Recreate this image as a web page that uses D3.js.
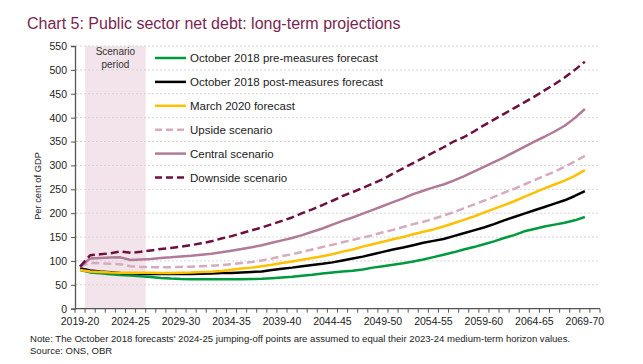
<!DOCTYPE html>
<html>
<head>
<meta charset="utf-8">
<script src="https://cdn.jsdelivr.net/npm/d3@7"></script>
<style>
  body { margin: 0; background: #fff; }
  svg { font-family: "Liberation Sans", Arial, sans-serif; display: block; }
</style>
</head>
<body>
<div class="chart"></div>
<script>
var firstYear = 2019;
var lastYear = 2070; // axis runs one category past the last data point

var tickLabels = ["2019-20", "2024-25", "2029-30", "2034-35", "2039-40", "2044-45",
  "2049-50", "2054-55", "2059-60", "2064-65", "2069-70"];
var yTicks = [0, 50, 100, 150, 200, 250, 300, 350, 400, 450, 500, 550];
var scenarioPeriod = ["2020-21", "2025-26"];

var preMeasures = [81, 76, 74, 72, 70.5, 69.5, 68, 66.5, 64.5, 63, 62, 61.5, 61.5, 61.5, 61.5, 61.5, 61.5, 62, 62.5, 64,
  65.5, 67, 69, 71, 73.5, 76, 78, 79.5, 82, 86, 89, 92, 95, 99, 103, 108, 113, 118, 124, 129,
  135, 141, 148, 154, 162, 167, 172, 176, 180, 185, 192];
var postMeasures = [84.5, 80, 78, 76.5, 75, 74, 73, 72.5, 72.5, 72.5, 72.5, 72.5, 73, 73.5, 74.5, 75, 76, 77, 78, 81,
  83.5, 86, 89, 91.5, 94, 97, 101, 105, 109, 114, 119, 124, 128, 133, 138, 142, 146, 152, 158, 164,
  170, 177, 185, 192, 199, 206, 213, 220, 227, 236, 246];
var march2020 = [81, 78, 77, 76, 75.5, 75.5, 75.5, 75.5, 75, 75, 75.5, 76, 77, 77.5, 79, 81.5, 84, 86, 89, 92,
  95.5, 99, 102.5, 106, 110, 114, 119.5, 124, 130, 135, 140, 145.5, 150, 156, 161, 166, 172, 179, 186, 193,
  201, 209, 217, 225, 234, 243, 252, 260, 268, 278, 290];
var upside = [88, 96, 95, 94, 93, 89, 87.5, 87, 87, 87, 87.5, 88, 89, 90, 91.5, 93, 95.5, 98, 101, 105,
  110, 114, 119, 124, 129, 134, 139, 144, 149, 154, 160, 165, 171, 177, 182, 188, 195, 202, 210, 218,
  226, 234, 243, 251, 260, 269, 278, 287, 297, 308, 320];
var central = [88, 105, 106, 107, 107.5, 102, 103, 104, 106, 107.5, 109.5, 111, 113, 115, 118, 121.5, 125, 128.5, 133, 138,
  143, 148, 154, 161, 168, 176, 184, 191, 199, 207, 215, 223, 231, 240, 247, 254, 260, 268, 277, 287,
  297, 307, 317, 328, 339, 350, 360, 371, 383, 399, 418];
var downside = [88, 112, 114, 116, 120, 117, 119, 122, 125, 127, 130, 133, 137, 141, 147, 152, 158, 164, 170, 177,
  184, 191, 200, 208, 217, 226, 236, 244, 253, 262, 271, 283, 294, 305, 316, 327, 338, 350, 359, 371,
  384, 396, 408, 420, 432, 444, 457, 470, 484, 500, 517];

var seriesNames = ["October 2018 pre-measures forecast", "October 2018 post-measures forecast",
  "March 2020 forecast", "Upside scenario", "Central scenario", "Downside scenario"];
var seriesValues = [preMeasures, postMeasures, march2020, upside, central, downside];
var seriesColors = ["#009a3e", "#000000", "#ffc000", "#d6abc0", "#b07a98", "#6e0f40"];
var seriesDash = [null, null, null, "8,4", null, "8,4"];

function fyLabel(y) { return y + "-" + String(y + 1).slice(2); }
var categories = d3.range(firstYear, lastYear + 1).map(fyLabel);

var width = 643, height = 364;
var margin = { top: 46, right: 43, bottom: 55.3, left: 75 };

var x = d3.scaleBand().domain(categories).range([margin.left, width - margin.right]).padding(0);
var y = d3.scaleLinear().domain([0, 550]).range([height - margin.bottom, margin.top]);

var svg = d3.select(".chart").append("svg")
  .attr("width", width)
  .attr("height", height);

svg.append("text")
  .attr("x", 27)
  .attr("y", 29)
  .attr("font-size", 16)
  .attr("fill", "#7b1f4f")
  .text("Chart 5: Public sector net debt: long-term projections");

// scenario shading
svg.append("rect")
  .attr("x", x(scenarioPeriod[0]))
  .attr("y", y(550))
  .attr("width", x(scenarioPeriod[1]) + x.bandwidth() - x(scenarioPeriod[0]))
  .attr("height", y(0) - y(550))
  .attr("fill", "#f2e4ea");

svg.selectAll(".grid")
  .data(yTicks.filter(function(d) { return d > 0; }))
  .enter().append("line")
  .attr("class", "grid")
  .attr("x1", margin.left + 1)
  .attr("x2", width - margin.right)
  .attr("y1", function(d) { return y(d); })
  .attr("y2", function(d) { return y(d); })
  .attr("stroke", "#d4d4d4")
  .attr("stroke-width", 1)
  .attr("stroke-dasharray", "2,2");

var sc = svg.append("text")
  .attr("text-anchor", "middle")
  .attr("font-size", 10)
  .attr("fill", "#333");
sc.append("tspan").attr("x", (x(scenarioPeriod[0]) + x(scenarioPeriod[1]) + x.bandwidth()) / 2).attr("y", 55).text("Scenario");
sc.append("tspan").attr("x", (x(scenarioPeriod[0]) + x(scenarioPeriod[1]) + x.bandwidth()) / 2).attr("y", 68).text("period");

// y axis
var yAxis = svg.append("g")
  .attr("transform", "translate(" + margin.left + ",0)")
  .call(d3.axisLeft(y).tickValues(yTicks).tickSize(4).tickPadding(4));
yAxis.select(".domain").attr("stroke", "#555").attr("stroke-width", 1.3);
yAxis.selectAll(".tick line").attr("stroke", "#555");
yAxis.selectAll("text").attr("font-size", 10.5).attr("fill", "#222")
  .attr("font-family", "Liberation Sans, Arial, sans-serif");

svg.append("text")
  .attr("transform", "translate(41," + 186 + ") rotate(-90)")
  .attr("text-anchor", "middle")
  .attr("font-size", 9.3)
  .attr("fill", "#222")
  .text("Per cent of GDP");

// x axis: ticks on category boundaries, labels every five years
var xAxis = svg.append("g")
  .attr("transform", "translate(0," + y(0) + ")");
xAxis.append("line")
  .attr("x1", margin.left)
  .attr("x2", width - margin.right)
  .attr("stroke", "#555")
  .attr("stroke-width", 1.3);
xAxis.selectAll(".xtick")
  .data(categories.concat(["end"]))
  .enter().append("line")
  .attr("class", "xtick")
  .attr("x1", function(d, i) { return i < categories.length ? x(d) : x.range()[1]; })
  .attr("x2", function(d, i) { return i < categories.length ? x(d) : x.range()[1]; })
  .attr("y1", 0)
  .attr("y2", 4)
  .attr("stroke", "#555");
xAxis.selectAll(".xlabel")
  .data(tickLabels)
  .enter().append("text")
  .attr("class", "xlabel")
  .attr("x", function(d) { return x(d) + x.bandwidth() / 2; })
  .attr("y", 16)
  .attr("text-anchor", "middle")
  .attr("font-size", 10.5)
  .attr("fill", "#222")
  .text(function(d) { return d; });

var line = d3.line()
  .x(function(d, i) { return x(categories[i]) + x.bandwidth() / 2; })
  .y(function(d) { return y(d); });

svg.selectAll(".series")
  .data(seriesValues)
  .enter().append("path")
  .attr("class", "series")
  .attr("d", line)
  .attr("fill", "none")
  .attr("stroke", function(d, i) { return seriesColors[i]; })
  .attr("stroke-width", 2.5)
  .attr("stroke-linejoin", "round")
  .attr("stroke-dasharray", function(d, i) { return seriesDash[i]; });

// legend
var legend = svg.selectAll(".legend")
  .data(seriesNames)
  .enter().append("g")
  .attr("class", "legend")
  .attr("transform", function(d, i) { return "translate(155," + (58 + i * 23.9) + ")"; });
legend.append("line")
  .attr("x1", 0)
  .attr("x2", 31)
  .attr("stroke", function(d, i) { return seriesColors[i]; })
  .attr("stroke-width", 2.5)
  .attr("stroke-dasharray", function(d, i) { return seriesDash[i] ? "7,4" : null; });
legend.append("text")
  .attr("x", 35)
  .attr("y", 4)
  .attr("font-size", 11.5)
  .attr("fill", "#222")
  .text(function(d) { return d; });

svg.append("text")
  .attr("x", 30)
  .attr("y", 342)
  .attr("font-size", 9.55)
  .attr("fill", "#222")
  .text("Note: The October 2018 forecasts' 2024-25  jumping-off points are assumed to equal their 2023-24  medium-term horizon values.");
svg.append("text")
  .attr("x", 30)
  .attr("y", 354)
  .attr("font-size", 9.55)
  .attr("fill", "#222")
  .text("Source: ONS, OBR");
</script>
</body>
</html>
